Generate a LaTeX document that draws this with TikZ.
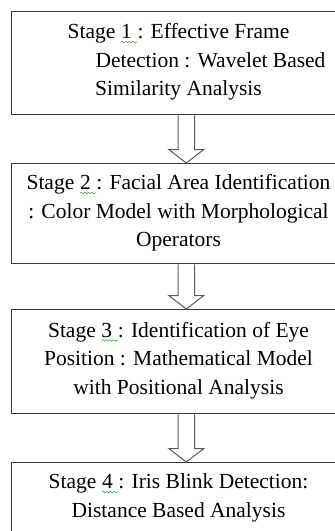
\documentclass[tikz,border=0pt]{standalone}
\usepackage{fontspec}
\setmainfont{Liberation Serif}
\usetikzlibrary{calc,decorations.pathmorphing}

\definecolor{boxline}{HTML}{3C3C3C}
\definecolor{arrowline}{HTML}{5A5A5A}
\definecolor{wavegreen}{HTML}{4CA64C}

% small green wavy underline (spell-check style)
\newcommand\spellwave[1]{\tikz[baseline=(sw.base)]{%
  \node[inner sep=0pt, outer sep=0pt, anchor=base] (sw) {#1};
  \draw[wavegreen, line width=0.6pt, decorate, decoration={snake, amplitude=0.8pt, segment length=3.6pt}]
    ([yshift=-3.2pt]sw.base west) -- ([yshift=-3.2pt]sw.base east);}}

% hollow block arrow from the bottom of one stage box to the top of the next
\newcommand\stagearrow[2]{%
  \path (#1.south -| ax) coordinate (as) (#2.north -| ax) coordinate (at);
  \filldraw[blockarrow] ($(as)+(-8.3,0)$) -- ($(at)+(-8.3,13.5)$) -- ($(at)+(-17.5,13.5)$)
    -- (at) -- ($(at)+(17.5,13.5)$) -- ($(at)+(8.3,13.5)$) -- ($(as)+(8.3,0)$);
}

\begin{document}
\begin{tikzpicture}[x=1pt,y=1pt,
  stagebox/.style={draw=boxline, line width=1.4pt, minimum width=335pt, inner sep=0pt, anchor=north west},
  stagetext/.style={align=center, font=\fontsize{21.5}{28.5}\selectfont, inner sep=0pt},
  blockarrow/.style={draw=arrowline, line width=1pt, fill=white}]
\useasboundingbox (0,0) rectangle (335,-531);
\coordinate (ax) at (186.3,0);

% stage boxes
\node[stagebox, minimum height=103pt] (b1) at (11,-11) {};
\node[stagebox, minimum height=100pt] (b2) at (11,-163) {};
\node[stagebox, minimum height=104pt] (b3) at (11,-309) {};
\node[stagebox, minimum height=110pt] (b4) at (11,-462) {};

% stage descriptions
\node[stagetext] (t1) at (178.5,-62) {Stage \spellwave{1\ }: Effective Frame\\ \hspace*{64pt}Detection : Wavelet Based\\ Similarity Analysis};
\node[stagetext] (t2) at (178.5,-213) {Stage \spellwave{2\ }: Facial Area Identification\\ : Color Model with Morphological\\ Operators};
\node[stagetext] (t3) at (178.5,-360.5) {Stage \spellwave{3\ }: Identification of Eye\\ Position : Mathematical Model\\ with Positional Analysis};
\node[stagetext] (t4) at (178.5,-498) {Stage \spellwave{4\ }: Iris Blink Detection:\\ Distance Based Analysis};

% connectors
\stagearrow{b1}{b2}
\stagearrow{b2}{b3}
\stagearrow{b3}{b4}
\end{tikzpicture}
\end{document}
